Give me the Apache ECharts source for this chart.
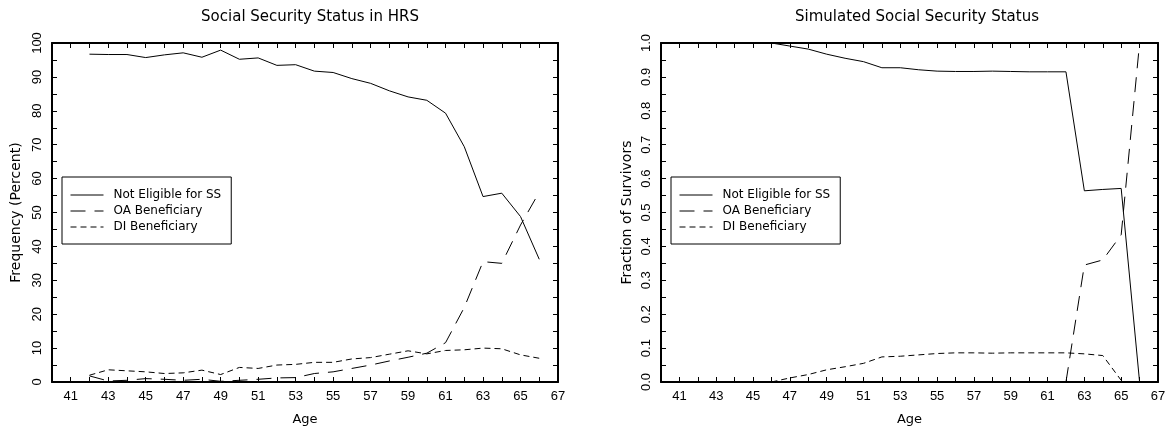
<!DOCTYPE html>
<html><head><meta charset="utf-8">
<script src="https://cdn.jsdelivr.net/npm/echarts@6/dist/echarts.min.js"></script>
<style>html,body{margin:0;padding:0;background:#fff}#c{width:1176px;height:431px}</style>
</head><body><div id="c"></div>
<script>
const hrsAges = [42,43,44,45,46,47,48,49,50,51,52,53,54,55,56,57,58,59,60,61,62,63,64,65,66];
const hrsNotEligible = [96.7,96.6,96.6,95.7,96.5,97.1,95.8,97.9,95.2,95.6,93.4,93.6,91.7,91.3,89.5,88.1,85.9,84.1,83.1,79.3,69.4,54.7,55.7,48.8,36.2];
const hrsOA = [1.8,0.3,0.5,1.0,0.8,0.5,0.8,0.2,0.5,0.8,1.2,1.3,2.5,3.0,4.0,5.0,6.2,7.3,8.5,11.6,22.0,35.5,35.0,46.3,56.0];
const hrsDI = [2.0,3.6,3.3,3.0,2.5,2.7,3.5,2.2,4.3,4.0,5.0,5.2,5.8,5.8,6.8,7.2,8.2,9.2,8.3,9.3,9.5,10.0,9.8,8.0,7.0];

const simAges = [46,47,48,49,50,51,52,53,54,55,56,57,58,59,60,61,62,63,64,65,66];
const simNotEligible = [1.0,0.991,0.982,0.967,0.955,0.945,0.927,0.927,0.921,0.917,0.916,0.916,0.917,0.916,0.915,0.915,0.915,0.564,0.568,0.571,0.0];
const simOA = [null,null,null,null,null,null,null,null,null,null,null,null,null,null,null,null,0.0,0.345,0.36,0.434,1.0];
const simDI = [0.0,0.012,0.022,0.036,0.045,0.055,0.074,0.076,0.08,0.084,0.086,0.086,0.085,0.086,0.086,0.086,0.086,0.083,0.078,0.005,null];

const names = ['Not Eligible for SS','OA Beneficiary','DI Beneficiary'];
const titles = ['Social Security Status in HRS','Simulated Social Security Status'];
const yNames = ['Frequency (Percent)','Fraction of Survivors'];
const xName = 'Age';

const FONT = "'DejaVu Sans',sans-serif";
const TICKFONT = "'Liberation Sans','DejaVu Sans',sans-serif";
const pair = (xs, ys) => xs.map((x,i)=>[x, ys[i]]);
const dashes = ['solid',[15,9],[6,4]];

const grids = [
  {left:52, right:618, top:43, bottom:49},
  {left:661, right:18, top:43, bottom:49}
];

function xAxes(gi){
  const base = {gridIndex:gi, type:'value', min:40, max:67, interval:1,
    axisLine:{show:true, onZero:false, lineStyle:{color:'#000', width:2}},
    axisTick:{inside:true, length:5, lineStyle:{color:'#000', width:1}},
    splitLine:{show:false}};
  return [
    Object.assign({}, base, {position:'bottom', name:xName, nameLocation:'middle', nameGap:31,
      nameTextStyle:{fontFamily:FONT, fontSize:13, color:'#000'},
      axisLabel:{margin:8, fontFamily:TICKFONT, fontSize:13, color:'#000',
        formatter:v=> (v%2===1 ? String(v) : '')}}),
    Object.assign({}, base, {position:'top', axisLabel:{show:false}})
  ];
}
function yAxes(gi, max, interval, fmt){
  const base = {gridIndex:gi, type:'value', min:0, max:max, interval:interval,
    axisLine:{show:true, onZero:false, lineStyle:{color:'#000', width:2}},
    axisTick:{inside:true, length:5, lineStyle:{color:'#000', width:1}},
    splitLine:{show:false}};
  return [
    Object.assign({}, base, {position:'left', name:yNames[gi], nameLocation:'middle', nameGap:gi===0?29:27,
      nameTextStyle:{fontFamily:FONT, fontSize:14, color:'#000'},
      axisLabel:{rotate:90, margin:8, fontFamily:TICKFONT, fontSize:13, color:'#000', formatter:fmt}}),
    Object.assign({}, base, {position:'right', axisLabel:{show:false}})
  ];
}

const series = [];
function addSeries(gi, xs, arrs){
  arrs.forEach((arr,k)=>{
    series.push({type:'line', name:names[k], xAxisIndex:gi*2, yAxisIndex:gi*2,
      data:pair(xs, arr), symbol:'none', connectNulls:false, animation:false,
      lineStyle:{color:'#000', width:1, type:dashes[k]}, itemStyle:{color:'#000'}});
  });
}
addSeries(0, hrsAges, [hrsNotEligible, hrsOA, hrsDI]);
addSeries(1, simAges, [simNotEligible, simOA, simDI]);

function makeLegend(left){
  return {show:true, orient:'vertical', left:left, top:177, data:names.slice(),
    itemWidth:33, itemHeight:10, itemGap:4,
    itemStyle:{opacity:0},
    lineStyle:{width:1},
    borderColor:'#000', borderWidth:1, borderRadius:0,
    padding:[12,10,11,8],
    textStyle:{fontFamily:FONT, fontSize:12, color:'#000', padding:[0,0,0,5]}};
}

const option = {
  animation:false,
  title: [
    {text:titles[0], left:305, top:5, textAlign:'center', textStyle:{fontFamily:FONT, fontSize:15, fontWeight:'normal', color:'#000'}},
    {text:titles[1], left:912, top:5, textAlign:'center', textStyle:{fontFamily:FONT, fontSize:15, fontWeight:'normal', color:'#000'}}
  ],
  legend: [makeLegend(62), makeLegend(671)],
  grid: grids,
  xAxis: [...xAxes(0), ...xAxes(1)],
  yAxis: [...yAxes(0, 100, 5, v=> (v%10===0 ? String(v) : '')),
          ...yAxes(1, 1, 0.05, v=> { const r=Math.round(v*100); return r%10===0 ? (r/100).toFixed(1) : ''; })],
  series: series
};
const chart = echarts.init(document.getElementById('c'), null, {renderer:'canvas'});
chart.setOption(option);
</script></body></html>
